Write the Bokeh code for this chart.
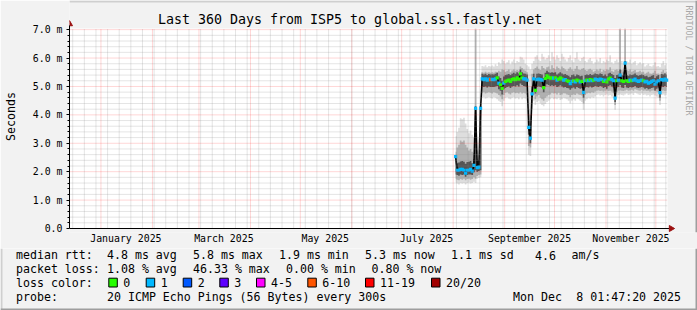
import math
import pandas as pd
from bokeh.plotting import figure
from bokeh.layouts import column
from bokeh.models import (Range1d, FixedTicker, DatetimeTickFormatter, PrintfTickFormatter,
                          ColumnDataSource)
from bokeh.core.properties import value
from bokeh.embed import file_html
from bokeh.resources import INLINE


def ms(s):
    return pd.Timestamp(s).value // 10**6


# ---------------- data ----------------
GRAPH_START = "2024-12-13 01:47:20"
GRAPH_END = "2025-12-08 01:47:20"
FIRST_SAMPLE = "2025-08-02 12:00"   # one sample per day from here

median_rtt_ms = [
    2.53, 2.05, 2.05, 2.08, 2.08, 2.05, 1.95, 2.05, 2.05, 2.08,
    2.02, 2.22, 4.23, 2.14, 2.16, 4.23, 5.27, 5.24, 5.27, 5.22,
    5.26, 5.24, 5.25, 5.24, 5.27, 5.30, 5.12, 5.06, 4.93, 5.12,
    5.18, 5.20, 5.22, 5.18, 5.24, 5.27, 5.24, 5.30, 5.26, 5.44,
    5.30, 5.27, 5.27, 5.22, 3.56, 3.18, 4.74, 5.27, 4.86, 5.24,
    5.26, 5.24, 5.22, 4.96, 5.28, 5.37, 5.32, 5.29, 5.30, 5.29,
    5.30, 5.22, 5.26, 5.30, 5.27, 5.22, 5.24, 5.20, 5.18, 5.10,
    5.18, 5.20, 5.16, 5.22, 5.20, 5.16, 5.18, 4.79, 5.20, 5.22,
    5.20, 5.24, 5.20, 5.22, 5.26, 5.24, 5.22, 5.26, 5.24, 5.18,
    5.22, 5.16, 5.26, 5.29, 5.24, 5.20, 4.59, 5.20, 5.22, 5.40,
    5.20, 5.18, 5.82, 5.20, 5.18, 5.22, 5.20, 5.22, 5.26, 5.20,
    5.18, 5.20, 5.22, 5.20, 5.16, 5.18, 5.12, 5.14, 5.18, 5.20,
    5.08, 5.16, 5.20, 4.78, 5.24, 5.22, 5.26, 5.22,
]

# index into LOSS_LABELS / LOSS_COLORS
loss_bucket = [
    1, 1, 1, 1, 1, 1, 1, 1, 1, 1,
    1, 1, 1, 1, 1, 1, 1, 1, 1, 1,
    1, 5, 1, 1, 1, 0, 1, 0, 0, 1,
    0, 0, 0, 0, 0, 0, 0, 0, 0, 0,
    0, 1, 1, 1, 1, 1, 1, 1, 0, 1,
    1, 1, 1, 0, 0, 0, 0, 0, 0, 1,
    0, 1, 0, 0, 0, 1, 1, 0, 0, 1,
    1, 0, 1, 0, 0, 1, 0, 1, 1, 0,
    1, 0, 1, 0, 1, 1, 1, 1, 1, 0,
    1, 0, 0, 0, 1, 1, 1, 0, 1, 1,
    0, 0, 1, 0, 0, 1, 0, 1, 1, 1,
    1, 1, 1, 0, 1, 1, 1, 1, 1, 1,
    1, 1, 1, 1, 1, 1, 1, 1,
]

# smoke: outer (all pings), middle and inner spread of the 20 pings, in ms
smoke_outer_lo = [
    1.62, 1.58, 1.55, 1.60, 1.58, 1.60, 1.55, 1.60, 1.62, 1.58,
    1.60, 1.65, 1.60, 1.75, 1.78, 1.80, 4.60, 4.62, 4.58, 4.60,
    4.62, 4.60, 4.58, 4.62, 4.60, 4.55, 4.50, 4.45, 4.30, 4.50,
    4.60, 4.62, 4.58, 4.55, 4.60, 4.62, 4.58, 4.60, 4.55, 4.62,
    4.55, 4.60, 4.58, 4.50, 2.60, 2.55, 4.20, 4.50, 4.35, 4.45,
    4.50, 4.40, 4.35, 4.30, 4.38, 4.45, 4.50, 4.55, 4.60, 4.55,
    4.58, 4.55, 4.60, 4.52, 4.55, 4.60, 4.58, 4.55, 4.50, 4.40,
    4.50, 4.55, 4.50, 4.58, 4.55, 4.50, 4.45, 4.18, 4.50, 4.55,
    4.60, 4.58, 4.62, 4.60, 4.65, 4.70, 4.72, 4.68, 4.70, 4.65,
    4.70, 4.72, 4.68, 4.70, 4.65, 4.60, 4.18, 4.62, 4.70, 4.72,
    4.70, 4.68, 4.72, 4.75, 4.70, 4.72, 4.75, 4.70, 4.78, 4.75,
    4.72, 4.70, 4.75, 4.70, 4.72, 4.68, 4.70, 4.65, 4.70, 4.72,
    4.68, 4.65, 4.60, 4.35, 4.70, 4.72, 4.68, 4.70,
]
smoke_outer_hi = [
    3.25, 3.40, 3.55, 3.88, 3.85, 3.90, 3.70, 3.50, 3.35, 3.45,
    3.30, 3.20, 7.05, 2.75, 2.60, 4.40, 5.72, 5.70, 5.75, 5.68,
    5.72, 5.70, 5.74, 5.70, 5.78, 5.72, 5.85, 5.80, 5.95, 5.90,
    5.80, 5.85, 5.92, 5.78, 5.88, 5.95, 5.82, 5.90, 5.86, 6.05,
    6.02, 5.95, 5.80, 5.75, 5.70, 5.60, 5.80, 5.90, 6.05, 6.10,
    5.95, 5.90, 6.15, 6.05, 5.95, 6.00, 6.10, 5.90, 6.20, 6.05,
    5.95, 6.10, 6.00, 5.90, 6.15, 6.05, 5.95, 5.88, 6.00, 6.10,
    5.92, 5.85, 6.00, 6.20, 5.95, 5.90, 6.00, 6.05, 5.90, 5.85,
    5.95, 6.00, 5.90, 5.80, 5.85, 5.95, 5.88, 6.00, 5.82, 5.90,
    5.85, 5.95, 5.90, 6.10, 5.85, 5.80, 5.90, 5.95, 5.85, 7.05,
    5.90, 5.80, 7.05, 5.90, 5.85, 5.95, 5.80, 5.85, 5.90, 5.75,
    5.80, 5.85, 5.78, 5.82, 5.70, 5.75, 5.80, 5.72, 5.70, 5.75,
    5.85, 5.70, 5.72, 5.68, 5.80, 5.90, 5.75, 5.80,
]
smoke_mid_lo = [
    1.75, 1.72, 1.70, 1.74, 1.72, 1.75, 1.70, 1.74, 1.75, 1.72,
    1.74, 1.80, 1.75, 1.85, 1.88, 1.90, 4.78, 4.80, 4.75, 4.78,
    4.80, 4.78, 4.75, 4.80, 4.78, 4.75, 4.70, 4.65, 4.55, 4.70,
    4.78, 4.80, 4.75, 4.72, 4.78, 4.80, 4.76, 4.78, 4.75, 4.80,
    4.75, 4.78, 4.75, 4.70, 2.90, 2.85, 4.40, 4.70, 4.55, 4.65,
    4.70, 4.60, 4.55, 4.50, 4.60, 4.65, 4.70, 4.72, 4.78, 4.75,
    4.76, 4.72, 4.78, 4.70, 4.72, 4.76, 4.75, 4.72, 4.70, 4.62,
    4.70, 4.72, 4.70, 4.75, 4.72, 4.70, 4.68, 4.40, 4.70, 4.75,
    4.78, 4.76, 4.80, 4.78, 4.82, 4.85, 4.86, 4.84, 4.85, 4.82,
    4.85, 4.86, 4.84, 4.85, 4.82, 4.78, 4.35, 4.80, 4.85, 4.86,
    4.85, 4.84, 4.86, 4.88, 4.85, 4.86, 4.88, 4.85, 4.90, 4.88,
    4.86, 4.85, 4.88, 4.85, 4.86, 4.84, 4.85, 4.82, 4.85, 4.86,
    4.84, 4.82, 4.80, 4.50, 4.85, 4.86, 4.84, 4.85,
]
smoke_mid_hi = [
    2.70, 2.85, 2.95, 3.10, 3.05, 3.10, 2.95, 2.85, 2.75, 2.80,
    2.70, 2.65, 7.00, 2.45, 2.40, 4.30, 5.50, 5.48, 5.52, 5.48,
    5.50, 5.48, 5.50, 5.48, 5.52, 5.50, 5.55, 5.52, 5.60, 5.58,
    5.52, 5.55, 5.60, 5.50, 5.56, 5.60, 5.55, 5.58, 5.55, 5.70,
    5.65, 5.60, 5.55, 5.50, 4.20, 4.00, 5.45, 5.60, 5.65, 5.70,
    5.62, 5.58, 5.72, 5.65, 5.60, 5.68, 5.70, 5.60, 5.75, 5.65,
    5.60, 5.70, 5.65, 5.60, 5.70, 5.65, 5.60, 5.55, 5.62, 5.68,
    5.60, 5.55, 5.62, 5.72, 5.60, 5.58, 5.62, 5.65, 5.58, 5.55,
    5.60, 5.62, 5.58, 5.52, 5.55, 5.60, 5.56, 5.62, 5.52, 5.58,
    5.55, 5.60, 5.58, 5.68, 5.55, 5.52, 5.58, 5.60, 5.55, 7.00,
    5.58, 5.52, 7.00, 5.58, 5.55, 5.60, 5.52, 5.55, 5.58, 5.50,
    5.52, 5.55, 5.50, 5.52, 5.45, 5.48, 5.52, 5.46, 5.45, 5.48,
    5.55, 5.45, 5.46, 5.42, 5.52, 5.58, 5.48, 5.52,
]
smoke_inner_lo = [
    1.90, 1.88, 1.86, 1.90, 1.88, 1.90, 1.82, 1.88, 1.90, 1.90,
    1.88, 1.98, 2.05, 2.00, 2.02, 2.05, 5.00, 4.98, 5.00, 4.96,
    5.00, 4.98, 4.98, 4.98, 5.00, 5.02, 4.90, 4.85, 4.72, 4.90,
    4.95, 4.98, 5.00, 4.95, 5.00, 5.02, 5.00, 5.04, 5.00, 5.10,
    5.05, 5.02, 5.00, 4.98, 3.30, 3.00, 4.60, 5.00, 4.75, 4.98,
    5.00, 4.98, 4.96, 4.80, 5.00, 5.08, 5.05, 5.02, 5.04, 5.02,
    5.04, 4.98, 5.00, 5.04, 5.00, 4.96, 4.98, 4.95, 4.94, 4.88,
    4.94, 4.96, 4.92, 4.98, 4.95, 4.92, 4.94, 4.60, 4.96, 4.98,
    4.96, 5.00, 4.96, 4.98, 5.02, 5.00, 4.98, 5.02, 5.00, 4.95,
    4.98, 4.92, 5.02, 5.04, 5.00, 4.96, 4.45, 4.96, 4.98, 5.05,
    4.96, 4.95, 5.05, 4.96, 4.95, 4.98, 4.96, 4.98, 5.02, 4.96,
    4.95, 4.96, 4.98, 4.96, 4.92, 4.95, 4.90, 4.92, 4.95, 4.96,
    4.86, 4.92, 4.96, 4.60, 5.00, 4.98, 5.02, 4.98,
]
smoke_inner_hi = [
    2.60, 2.30, 2.32, 2.36, 2.38, 2.35, 2.28, 2.34, 2.35, 2.38,
    2.30, 2.45, 4.30, 2.38, 2.40, 4.30, 5.45, 5.42, 5.45, 5.40,
    5.44, 5.42, 5.43, 5.42, 5.45, 5.48, 5.35, 5.30, 5.20, 5.35,
    5.40, 5.42, 5.44, 5.40, 5.45, 5.48, 5.45, 5.50, 5.46, 5.60,
    5.50, 5.46, 5.45, 5.42, 3.80, 3.50, 5.00, 5.45, 5.30, 5.45,
    5.46, 5.44, 5.42, 5.30, 5.48, 5.55, 5.50, 5.48, 5.50, 5.48,
    5.50, 5.42, 5.46, 5.50, 5.46, 5.42, 5.44, 5.40, 5.38, 5.32,
    5.40, 5.42, 5.36, 5.42, 5.40, 5.36, 5.38, 5.10, 5.40, 5.42,
    5.40, 5.44, 5.40, 5.42, 5.46, 5.44, 5.42, 5.46, 5.44, 5.38,
    5.42, 5.36, 5.46, 5.48, 5.44, 5.40, 5.30, 5.40, 5.42, 5.60,
    5.40, 5.38, 5.90, 5.40, 5.38, 5.42, 5.40, 5.42, 5.46, 5.40,
    5.38, 5.40, 5.42, 5.40, 5.36, 5.38, 5.32, 5.34, 5.38, 5.40,
    5.30, 5.36, 5.40, 5.25, 5.44, 5.42, 5.46, 5.42,
]

LOSS_LABELS = ["0", "1", "2", "3", "4-5", "6-10", "11-19", "20/20"]
LOSS_COLORS = ["#26ff00", "#00b8ff", "#0059ff", "#5e00ff", "#ff00ff", "#ff5500", "#ff0000", "#a10000"]

MONTH_STARTS = ["2025-01-01", "2025-02-01", "2025-03-01", "2025-04-01", "2025-05-01", "2025-06-01",
                "2025-07-01", "2025-08-01", "2025-09-01", "2025-10-01", "2025-11-01", "2025-12-01"]
MONTH_LABEL_AT = ["2025-01-16", "2025-03-16", "2025-05-16", "2025-07-16", "2025-09-16", "2025-11-16"]
Y_TICKS = [0, 1, 2, 3, 4, 5, 6, 7]
Y_MINOR = [0.2, 0.4, 0.6, 0.8, 1.2, 1.4, 1.6, 1.8, 2.2, 2.4, 2.6, 2.8, 3.2, 3.4, 3.6, 3.8,
           4.2, 4.4, 4.6, 4.8, 5.2, 5.4, 5.6, 5.8, 6.2, 6.4, 6.6, 6.8]

TITLE = "Last 360 Days from ISP5 to global.ssl.fastly.net"
WATERMARK = "RRDTOOL / TOBI OETIKER"
STAT_RTT = ["median rtt:", "4.8 ms avg", "5.8 ms max", "1.9 ms min", "5.3 ms now", "1.1 ms sd", "4.6", "am/s"]
STAT_LOSS = ["packet loss:", "1.08 % avg", "46.33 % max", "0.00 % min", "0.80 % now"]
PROBE = "20 ICMP Echo Pings (56 Bytes) every 300s"
STAMP_DAY = "Mon Dec"
STAMP_TIME = "8 01:47:20 2025"

# ---------------- layout constants (page pixels) ----------------
W = 697
FL, FR, FT, FB = 67, 667, 28, 228          # rrdtool graph area
TOP_H = 248                                # main figure height
FRAME_BOTTOM = 232                         # bokeh frame bottom (a bit below the x axis line)
X0, X1 = ms(GRAPH_START), ms(GRAPH_END)
YMAX = 7.04
FONT = "DejaVu Sans Mono"


def dx(cx):
    return X0 + (cx - FL) / (FR - FL) * (X1 - X0)


def dy(cy):
    return (FB - cy) / (FB - FT) * YMAX


# ---------------- main figure ----------------
n = len(median_rtt_ms)
xs = [ms(t) for t in pd.date_range(FIRST_SAMPLE, periods=n, freq="D")]
src = ColumnDataSource(dict(
    x=xs, med=median_rtt_ms,
    col=[LOSS_COLORS[b] for b in loss_bucket],
    olo=smoke_outer_lo, ohi=smoke_outer_hi,
    mlo=smoke_mid_lo, mhi=smoke_mid_hi,
    ilo=smoke_inner_lo, ihi=smoke_inner_hi,
))

fig = figure(width=W, height=TOP_H, x_axis_type="datetime",
             x_range=Range1d(X0, dx(W)), y_range=Range1d(dy(FRAME_BOTTOM), dy(0)),
             output_backend="svg", toolbar_location=None, title=None,
             min_border_left=FL, min_border_right=0, min_border_top=0,
             min_border_bottom=TOP_H - FRAME_BOTTOM,
             background_fill_color="#f2f2f2", border_fill_color="#f2f2f2", outline_line_color=None)
fig.frame_align = False
fig.xgrid.visible = False
fig.ygrid.visible = False

# white canvas of the graph
fig.quad(left=[X0], right=[X1], bottom=[0], top=[YMAX], fill_color="white", line_color=None)

# smoke
fig.varea_step(x="x", y1="olo", y2="ohi", step_mode="center", source=src, fill_color="#dedede")
fig.varea_step(x="x", y1="mlo", y2="mhi", step_mode="center", source=src, fill_color="#b0b0b0")
fig.varea_step(x="x", y1="ilo", y2="ihi", step_mode="center", source=src, fill_color="#555555")
# median
fig.line(x="x", y="med", source=src, line_color="black", line_width=1.6)
fig.scatter(x="x", y="med", source=src, marker="square", size=3.2, fill_color="col", line_color=None)

# grid, drawn over the data like rrdtool does
week_ms = [ms(d) for d in pd.date_range("2024-12-15", "2025-12-07", freq="7D")]
month_ms = [ms(d) for d in MONTH_STARTS]
MINOR = dict(line_color="#8c8c8c", line_alpha=0.45, line_dash="1 1", line_width=1)
MAJOR = dict(line_color="#ff0000", line_alpha=0.32, line_dash="1 1", line_width=1)
fig.segment(x0=week_ms, x1=week_ms, y0=[0] * len(week_ms), y1=[YMAX] * len(week_ms), **MINOR)
fig.segment(x0=[X0] * len(Y_MINOR), x1=[X1] * len(Y_MINOR), y0=Y_MINOR, y1=Y_MINOR, **MINOR)
fig.segment(x0=month_ms, x1=month_ms, y0=[0] * len(month_ms), y1=[YMAX] * len(month_ms), **MAJOR)
fig.segment(x0=[X0] * 7, x1=[X1] * 7, y0=Y_TICKS[1:], y1=Y_TICKS[1:], **MAJOR)

# x axis line, its extension and arrows
fig.segment(x0=[X0], x1=[dx(669)], y0=[0], y1=[0], line_color="black", line_width=1)
fig.scatter(x=[X0], y=[dy(23.5)], marker="triangle", size=6, fill_color="#9b1010", line_color="#9b1010")
fig.scatter(x=[dx(670.5)], y=[0], marker="triangle", angle=-math.pi / 2, size=6,
            fill_color="#9b1010", line_color="#9b1010")

# title and watermark
fig.text(x=[dx(348.5)], y=[dy(19.3)], text=[TITLE], text_font=value(FONT), text_font_size="13.3px",
         text_align="center", text_baseline="middle", text_color="black")
fig.text(x=[dx(688.3)], y=[dy(5)], text=[WATERMARK], angle=-math.pi / 2, text_font=value(FONT),
         text_font_size="8.3px", text_align="left", text_baseline="middle", text_color="#a8a8a8")

# border shading (top light, right dark)
fig.quad(left=[X0], right=[dx(W)], bottom=[dy(2)], top=[dy(0)], fill_color="#cfcfcf", line_color=None)
fig.quad(left=[dx(W - 2)], right=[dx(W)], bottom=[dy(FRAME_BOTTOM)], top=[dy(0)], fill_color="#9e9e9e",
         line_color=None)

# axes
xa = fig.xaxis[0]
xa.ticker = FixedTicker(ticks=[ms(d) for d in MONTH_LABEL_AT])
fmt = "%B %Y"
xa.formatter = DatetimeTickFormatter(microseconds=fmt, milliseconds=fmt, seconds=fmt, minsec=fmt,
                                     minutes=fmt, hourmin=fmt, hours=fmt, days=fmt, months=fmt, years=fmt)
xa.major_label_text_font = FONT
xa.major_label_text_font_size = "9.9px"
xa.major_label_text_color = "black"
xa.major_tick_out = 0
xa.major_tick_in = 0
xa.minor_tick_out = 0
xa.minor_tick_in = 0
xa.major_label_standoff = 0
xa.axis_line_color = None

ya = fig.yaxis[0]
ya.ticker = FixedTicker(ticks=Y_TICKS, minor_ticks=Y_MINOR)
ya.bounds = (0, dy(25))
ya.formatter = PrintfTickFormatter(format="%.1f m")
ya.major_label_overrides = {0: "0.0"}
ya.major_label_text_font = FONT
ya.major_label_text_font_size = "9.9px"
ya.major_label_text_color = "black"
ya.major_tick_out = 3
ya.major_tick_in = 0
ya.minor_tick_out = 2
ya.minor_tick_in = 0
ya.major_label_standoff = 4
ya.axis_line_color = "black"
ya.axis_label = "Seconds"
ya.axis_label_text_font = FONT
ya.axis_label_text_font_size = "11.6px"
ya.axis_label_text_font_style = "normal"
ya.axis_label_text_color = "black"
ya.axis_label_standoff = 12

# ---------------- legend / statistics strip ----------------
LEG_H = 310 - TOP_H
leg = figure(width=W, height=LEG_H, x_range=Range1d(0, W), y_range=Range1d(310, TOP_H),
             output_backend="svg", toolbar_location=None, title=None,
             x_axis_location=None, y_axis_location=None,
             min_border_left=0, min_border_right=0, min_border_top=0, min_border_bottom=0,
             background_fill_color="#f2f2f2", border_fill_color="#f2f2f2", outline_line_color=None)
leg.frame_align = False
leg.xgrid.visible = False
leg.ygrid.visible = False

TXT = dict(text_font=value(FONT), text_font_size="11.6px", text_baseline="middle", text_color="black")
rtt_x = [15.5, 106.5, 192.5, 278.5, 364.5, 450.5, 534.5, 571]
loss_x = [15.5, 106.5, 192.5, 285.5, 371]
leg.text(x=rtt_x, y=[254.7] * len(rtt_x), text=STAT_RTT, text_align="left", **TXT)
leg.text(x=loss_x, y=[268.4] * len(loss_x), text=STAT_LOSS, text_align="left", **TXT)

SW_X = [108.3, 145.7, 182.7, 219.3, 256, 307.3, 365, 431]
leg.text(x=[15.5], y=[282.3], text=["loss color:"], text_align="left", **TXT)
leg.quad(left=SW_X, right=[x + 8.5 for x in SW_X], top=[277.7] * 8, bottom=[286.5] * 8,
         fill_color=LOSS_COLORS, line_color="black", line_width=1)
leg.text(x=[x + 14.5 for x in SW_X], y=[282.3] * 8, text=LOSS_LABELS, text_align="left", **TXT)

leg.text(x=[15.5, 106.5], y=[296.1, 296.1], text=["probe:", PROBE], text_align="left", **TXT)
leg.text(x=[512.5], y=[296.1], text=[STAMP_DAY], text_align="left", **TXT)
leg.text(x=[680.5], y=[296.1], text=[STAMP_TIME], text_align="right", **TXT)

# border shading (left light, right/bottom dark)
leg.quad(left=[0], right=[2], top=[TOP_H], bottom=[310], fill_color="#cfcfcf", line_color=None)
leg.quad(left=[W - 2], right=[W], top=[TOP_H], bottom=[310], fill_color="#9e9e9e", line_color=None)
leg.quad(left=[0], right=[W], top=[308], bottom=[310], fill_color="#9e9e9e", line_color=None)

p = column(fig, leg, spacing=0)
open("out.html", "w").write(file_html(p, INLINE))
